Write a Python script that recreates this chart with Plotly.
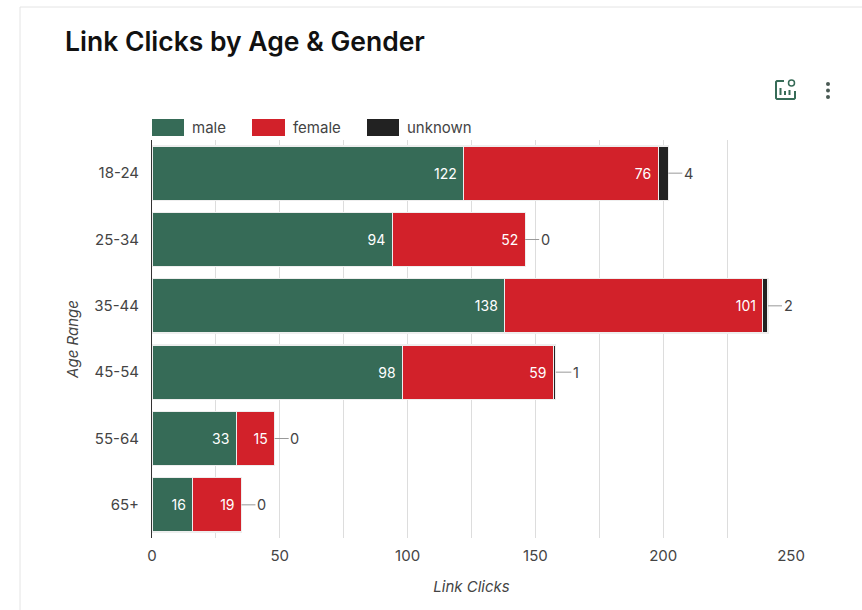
import plotly.graph_objects as go

# Link clicks per age bracket, split by gender
age_ranges = ["18-24", "25-34", "35-44", "45-54", "55-64", "65+"]
male = [122, 94, 138, 98, 33, 16]
female = [76, 52, 101, 59, 15, 19]
unknown = [4, 0, 2, 1, 0, 0]
x_ticks = [0, 50, 100, 150, 200, 250]

GREEN = "#366b57"
RED = "#d2212a"
BLACK = "#222222"
TEXT = "#444444"
FONT = "Inter"

W, H = 862, 610
L, R, T, B = 152, 71, 140, 72


def px(x):
    return (x - L) / (W - L - R)


def py(y):
    return 1 - (y - T) / (H - T - B)


fig = go.Figure()

for name, values, color, labelled in [
    ("male", male, GREEN, True),
    ("female", female, RED, True),
    ("unknown", unknown, BLACK, False),
]:
    fig.add_trace(go.Bar(
        name=name,
        y=age_ranges,
        x=values,
        orientation="h",
        marker=dict(color=color, line=dict(color="#eeeeee", width=1.1)),
        text=[f"{v}\u00a0" for v in values] if labelled else None,
        textposition="inside" if labelled else "none",
        insidetextanchor="end",
        textangle=0,
        insidetextfont=dict(family=FONT, size=14, color="white"),
        showlegend=False,
    ))

annotations = []

# "unknown" values sit outside the stack, tied to it by a short leader
for age, m, f, u in zip(age_ranges, male, female, unknown):
    annotations.append(dict(
        x=m + f + u, y=age, xref="x", yref="y",
        text=str(u), showarrow=True, arrowhead=0, arrowwidth=1,
        arrowcolor="#999999", ax=20, ay=0,
        font=dict(family=FONT, size=14.5, color=TEXT),
    ))

# Legend row above the plot
shapes = []
legend_items = [("male", GREEN, 152, 184, 190), ("female", RED, 252, 285, 291),
                ("unknown", BLACK, 367, 399, 405)]
for label, color, x0, x1, tx in legend_items:
    shapes.append(dict(type="rect", xref="paper", yref="paper",
                       x0=px(x0), x1=px(x1), y0=py(136), y1=py(119),
                       fillcolor=color, line_width=0))
    annotations.append(dict(
        x=px(tx), y=py(127.5), xref="paper", yref="paper", xanchor="left",
        yanchor="middle", text=label, showarrow=False,
        font=dict(family=FONT, size=15, color=TEXT),
    ))

# Card outline
card = "#e4e4e4"
shapes.append(dict(type="line", xref="paper", yref="paper", x0=px(20), x1=px(20),
                   y0=py(7), y1=py(610), line=dict(color=card, width=1), layer="below"))
shapes.append(dict(type="line", xref="paper", yref="paper", x0=px(20), x1=px(862),
                   y0=py(7), y1=py(7), line=dict(color=card, width=1), layer="below"))

# Toolbar icons in the card's top right corner
icon_path = (
    f"M {px(784)},{py(81)} L {px(777)},{py(81)} L {px(776)},{py(82)} L {px(776)},{py(98)} "
    f"L {px(777)},{py(99)} L {px(794)},{py(99)} L {px(795)},{py(98)} L {px(795)},{py(91)} "
    f"M {px(780.5)},{py(95)} L {px(780.5)},{py(88)} "
    f"M {px(785)},{py(95)} L {px(785)},{py(91)} "
    f"M {px(789.5)},{py(95)} L {px(789.5)},{py(90)}"
)
shapes.append(dict(type="path", xref="paper", yref="paper", path=icon_path,
                   line=dict(color=GREEN, width=2)))
shapes.append(dict(type="circle", xref="paper", yref="paper", x0=px(788.5), x1=px(794.5),
                   y0=py(86), y1=py(80), line=dict(color=GREEN, width=1.5)))
for cy in (84, 90.5, 97):
    shapes.append(dict(type="circle", xref="paper", yref="paper", x0=px(826), x1=px(830),
                       y0=py(cy + 2), y1=py(cy - 2), fillcolor="#4a5a54", line_width=0))

fig.update_layout(
    width=W,
    height=H,
    autosize=False,
    barmode="stack",
    bargap=0.18,
    plot_bgcolor="white",
    paper_bgcolor="white",
    margin=dict(l=L, r=R, t=T, b=B, pad=0),
    font=dict(family=FONT, size=14, color=TEXT),
    title=dict(
        text="Link Clicks by Age & Gender",
        xref="container", yref="container",
        x=65 / W, y=1 - 42 / H, xanchor="left", yanchor="middle",
        font=dict(family=FONT, size=26.5, color="#111111", weight=600),
    ),
    xaxis=dict(
        range=[0, 250],
        tickvals=x_ticks,
        showgrid=True,
        gridcolor="#dddddd",
        gridwidth=1,
        minor=dict(dtick=25, showgrid=True, gridcolor="#dddddd", gridwidth=1),
        zeroline=False,
        ticks="",
        showline=False,
        ticklabelstandoff=7,
        tickfont=dict(family=FONT, size=15, color=TEXT),
        title=dict(text="Link Clicks", standoff=17,
                   font=dict(family=FONT, size=15, color=TEXT, style="italic")),
    ),
    yaxis=dict(
        categoryorder="array",
        categoryarray=age_ranges,
        autorange="reversed",
        showgrid=False,
        showline=True,
        linecolor="#333333",
        linewidth=1,
        ticks="",
        ticklabelstandoff=9,
        tickfont=dict(family=FONT, size=15, color=TEXT),
        title=dict(text="Age Range", standoff=12,
                   font=dict(family=FONT, size=15, color=TEXT, style="italic")),
    ),
    annotations=annotations,
    shapes=shapes,
)

fig.write_html("out.html", config=dict(displayModeBar=False))
